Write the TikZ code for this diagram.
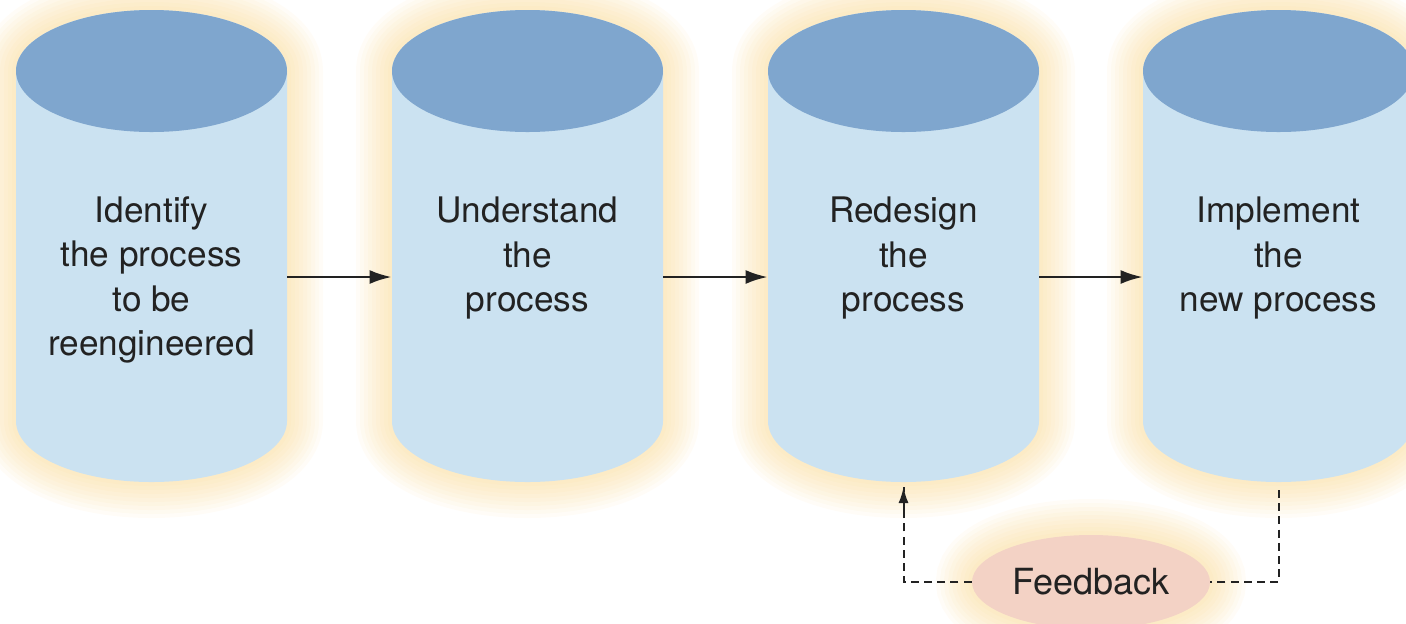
\documentclass[tikz,border=0pt]{standalone}
\usepackage{fontspec}
\setmainfont{TeX Gyre Heros}
\usetikzlibrary{shapes.geometric,arrows.meta}
\definecolor{captop}{HTML}{7FA6CE}
\definecolor{capbody}{HTML}{CBE2F1}
\definecolor{glowc}{HTML}{F8CF78}
\definecolor{fbfill}{HTML}{F3D2C5}
\definecolor{inkc}{HTML}{222222}

\begin{document}
\begin{tikzpicture}[x=0.5pt,y=-0.5pt,
  stagetext/.style={align=center,inner sep=0pt,minimum width=135.5pt,
    font=\fontsize{17.6}{22.3}\selectfont,text=inkc},
  flowarrow/.style={line width=1.2pt,inkc,-{Latex[length=11pt,width=7pt]}},
  fbline/.style={line width=1pt,inkc,dash pattern=on 4pt off 2.6pt}]
\useasboundingbox (0,0) rectangle (1406,623);

% feedback glow
\foreach \w in {36,32,...,4}
  \draw [glowc,opacity=0.06,line width=\w pt] (1091,582) ellipse [x radius=119,y radius=47];

% the four cylinders
\foreach \cx in {151.5,527.5,903.5,1278.5}{
  \foreach \w in {36,32,...,4}
    \draw [glowc,opacity=0.06,line width=\w pt,line join=round]
      (\cx-135.5,421) -- (\cx-135.5,71) arc [start angle=180,end angle=360,x radius=135.5,y radius=61]
      -- (\cx+135.5,421) arc [start angle=0,end angle=180,x radius=135.5,y radius=61] -- cycle;
  \fill [capbody]
      (\cx-135.5,421) -- (\cx-135.5,71) arc [start angle=180,end angle=360,x radius=135.5,y radius=61]
      -- (\cx+135.5,421) arc [start angle=0,end angle=180,x radius=135.5,y radius=61] -- cycle;
  \fill [captop] (\cx,71) ellipse [x radius=135.5,y radius=61];
}

\node [stagetext] (c1) at (151.5,280) {Identify\\the process\\to be\\reengineered};
\node [stagetext] (c2) at (527.5,258) {Understand\\the\\process};
\node [stagetext] (c3) at (903.5,258) {Redesign\\the\\process};
\node [stagetext] (c4) at (1278.5,258) {Implement\\the\\new process};

\coordinate (a1) at ([yshift=1.5pt]c1.east);
\draw [flowarrow] (a1) -- (a1 -| c2.west);
\draw [flowarrow] (a1 -| c2.east) -- (a1 -| c3.west);
\draw [flowarrow] (a1 -| c3.east) -- (a1 -| c4.west);

% feedback loop
\node [ellipse,fill=fbfill,inner sep=0pt,minimum width=119pt,minimum height=47pt,
  font=\fontsize{18}{22}\selectfont,text=inkc] (fb) at (1091,582) {Feedback};
\coordinate (c3b) at (903.5,487);
\coordinate (c4b) at (1278.5,490);
\draw [fbline] (c4b) |- (fb.east);
\draw [fbline] (fb.west) -| (c3b);
\draw [line width=1pt,inkc,-{Latex[length=8pt,width=5pt]}] ([yshift=-14pt]c3b) -- (c3b);

\end{tikzpicture}
\end{document}
